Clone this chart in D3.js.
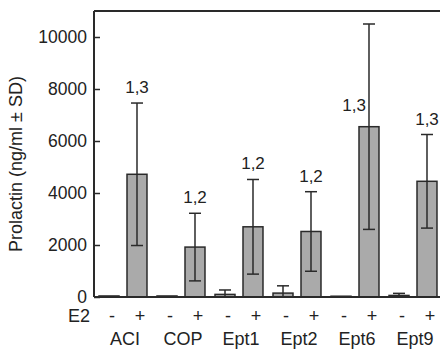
<!DOCTYPE html>
<html>
<head>
<meta charset="utf-8">
<script src="https://cdn.jsdelivr.net/npm/d3@7"></script>
<style>
    body { margin: 0; background: #fff; }
    #chart { width: 440px; height: 350px; overflow: hidden; }
    text { font-family: "Liberation Sans", Arial, Helvetica, sans-serif; fill: #222; }
</style>
</head>
<body>
<div id="chart"></div>
<script>
// data
const groups = ["ACI", "COP", "Ept1", "Ept2", "Ept6", "Ept9"];
const treatments = ["-", "+"];
const meanMinus = [40, 40, 100, 150, 30, 60];
const sdMinus = [0, 0, 170, 280, 0, 80];
const meanPlus = [4720, 1920, 2700, 2520, 6550, 4450];
const sdPlus = [2740, 1300, 1820, 1530, 3950, 1800];
const sigLabels = ["1,3", "1,2", "1,2", "1,2", "1,3", "1,3"];
const yTicks = [0, 2000, 4000, 6000, 8000, 10000];

const width = 440;
const height = 350;
const margin = { top: 11, left: 94, bottom: 53 };
const lineColor = "#2a2a2a";
const fontSize = 17.5;

const rows = [];
groups.forEach((g, i) => {
    rows.push({ group: g, e2: "-", mean: meanMinus[i], sd: sdMinus[i], label: null });
    rows.push({ group: g, e2: "+", mean: meanPlus[i], sd: sdPlus[i], label: sigLabels[i] });
});

const svg = d3.select("#chart")
    .append("svg")
    .attr("width", width)
    .attr("height", height);

const y = d3.scaleLinear()
    .domain([0, 11000])
    .range([height - margin.bottom, margin.top]);

const x0 = d3.scaleBand()
    .domain(groups)
    .range([margin.left, margin.left + 58 * groups.length]);

const x1 = d3.scaleBand()
    .domain(treatments)
    .range([0, x0.bandwidth()])
    .paddingInner(0.286)
    .paddingOuter(0.179);

const cx = (d) => x0(d.group) + x1(d.e2) + x1.bandwidth() / 2;

// bars
svg.append("g")
    .selectAll("rect")
    .data(rows)
    .enter()
    .append("rect")
    .attr("x", (d) => x0(d.group) + x1(d.e2))
    .attr("y", (d) => y(d.mean))
    .attr("width", x1.bandwidth())
    .attr("height", (d) => y(0) - y(d.mean))
    .attr("fill", "#aaaaaa")
    .attr("stroke", lineColor)
    .attr("stroke-width", 1.5);

// error bars
const errRows = rows.filter((d) => d.sd > 0);
const errG = svg.append("g")
    .attr("stroke", lineColor)
    .attr("stroke-width", 1.5);
const capW = 6;
errG.selectAll("line.stem")
    .data(errRows)
    .enter()
    .append("line")
    .attr("class", "stem")
    .attr("x1", cx)
    .attr("x2", cx)
    .attr("y1", (d) => y(d.mean + d.sd))
    .attr("y2", (d) => y(Math.max(0, d.mean - d.sd)));
errG.selectAll("line.capTop")
    .data(errRows)
    .enter()
    .append("line")
    .attr("class", "capTop")
    .attr("x1", (d) => cx(d) - capW)
    .attr("x2", (d) => cx(d) + capW)
    .attr("y1", (d) => y(d.mean + d.sd))
    .attr("y2", (d) => y(d.mean + d.sd));
errG.selectAll("line.capBot")
    .data(errRows.filter((d) => d.mean - d.sd > 0))
    .enter()
    .append("line")
    .attr("class", "capBot")
    .attr("x1", (d) => cx(d) - capW)
    .attr("x2", (d) => cx(d) + capW)
    .attr("y1", (d) => y(d.mean - d.sd))
    .attr("y2", (d) => y(d.mean - d.sd));

// significance labels, moved beside the bar when they would hit the frame
svg.append("g")
    .selectAll("text")
    .data(rows.filter((d) => d.label))
    .enter()
    .append("text")
    .attr("font-size", 17)
    .each(function (d) {
        const top = y(d.mean + d.sd) - 10;
        const t = d3.select(this).text(d.label);
        if (top - fontSize < margin.top) {
            t.attr("x", cx(d) - 3).attr("y", y(d.mean) - 16).attr("text-anchor", "end");
        } else {
            t.attr("x", cx(d)).attr("y", top).attr("text-anchor", "middle");
        }
    });

// y axis
const yAxis = svg.append("g")
    .attr("transform", "translate(" + margin.left + ",0)")
    .call(d3.axisLeft(y)
        .tickValues(yTicks)
        .tickFormat(d3.format("d"))
        .tickSizeInner(-6)
        .tickSizeOuter(0)
        .tickPadding(7));
yAxis.select(".domain").remove();
yAxis.selectAll(".tick line").attr("stroke", lineColor).attr("stroke-width", 1.5);
yAxis.selectAll(".tick text")
    .attr("font-size", fontSize)
    .attr("font-family", "Liberation Sans, Arial, sans-serif")
    .attr("fill", "#222");

// frame
const frame = svg.append("g").attr("stroke", lineColor).attr("stroke-width", 2).attr("fill", "none");
frame.append("line").attr("x1", margin.left).attr("x2", margin.left).attr("y1", margin.top).attr("y2", y(0));
frame.append("line").attr("x1", margin.left).attr("x2", width).attr("y1", margin.top).attr("y2", margin.top);
frame.append("line").attr("x1", margin.left).attr("x2", width).attr("y1", y(0)).attr("y2", y(0));

// x labels
svg.append("text")
    .attr("x", 90)
    .attr("y", 322)
    .attr("text-anchor", "end")
    .attr("font-size", 18)
    .text("E2");
svg.append("g")
    .selectAll("text")
    .data(rows)
    .enter()
    .append("text")
    .attr("x", (d) => cx(d) + 3)
    .attr("y", 322)
    .attr("text-anchor", "middle")
    .attr("font-size", 18)
    .text((d) => d.e2);
svg.append("g")
    .selectAll("text")
    .data(groups)
    .enter()
    .append("text")
    .attr("x", (d) => x0(d) + x0.bandwidth() / 2 + 2)
    .attr("y", 345)
    .attr("text-anchor", "middle")
    .attr("font-size", 18)
    .text((d) => d);

// y title
svg.append("text")
    .attr("transform", "translate(22," + 164 + ") rotate(-90)")
    .attr("text-anchor", "middle")
    .attr("font-size", 18)
    .text("Prolactin (ng/ml \u00b1 SD)");
</script>
</body>
</html>
